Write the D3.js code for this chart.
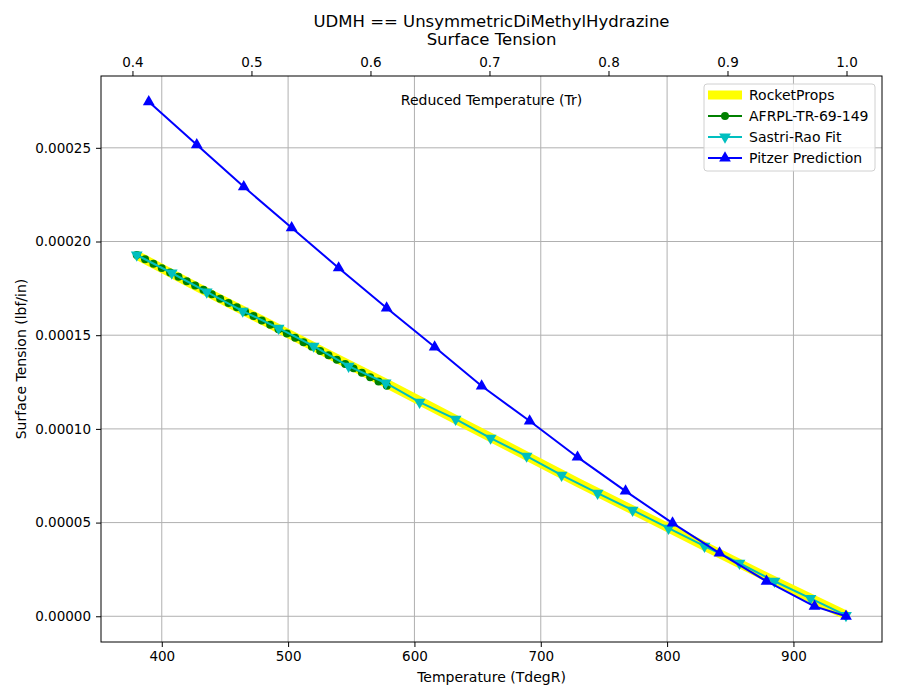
<!DOCTYPE html>
<html>
<head>
<meta charset="utf-8">
<script src="https://cdn.jsdelivr.net/npm/d3@7"></script>
<style>
  body { margin: 0; background: #fff; }
  svg, svg text { font-family: "DejaVu Sans", sans-serif; }
  .grid line { stroke: #b0b0b0; stroke-width: 1; }
  .axis text { font-size: 13.5px; fill: #000; font-family: "DejaVu Sans", sans-serif; }
</style>
</head>
<body>
<div id="demo"></div>
<script>
// critical temperature (degR) used for the reduced temperature axis
let Tc = 942.0;

// RocketProps (yellow band)
let rpT = [380, 430, 480, 530, 580, 630, 680, 730, 780, 830, 880, 942];
let rpV = [0.0001928, 0.0001750, 0.0001578, 0.0001405, 0.0001235, 0.0001060,
           0.0000886, 0.0000711, 0.0000543, 0.0000373, 0.0000205, 0.0000005];

// AFRPL-TR-69-149 (green circles)
let afT = [380.2, 386.8, 393.4, 400.0, 406.6, 413.2, 419.8, 426.4, 433.0, 439.6,
           446.2, 452.8, 459.4, 466.0, 472.6, 479.2, 485.8, 492.4, 499.0, 505.6,
           512.2, 518.8, 525.4, 532.0, 538.6, 545.2, 551.8, 558.4, 565.0, 571.6, 578.2];
let afV = [0.0001928, 0.0001905, 0.0001881, 0.0001858, 0.0001835, 0.0001812, 0.0001788,
           0.0001765, 0.0001742, 0.0001718, 0.0001695, 0.0001672, 0.0001649, 0.0001625,
           0.0001602, 0.0001579, 0.0001556, 0.0001532, 0.0001509, 0.0001486, 0.0001462,
           0.0001439, 0.0001416, 0.0001393, 0.0001369, 0.0001346, 0.0001323, 0.0001300,
           0.0001276, 0.0001253, 0.0001230];

// Sastri-Rao Fit (cyan down triangles)
let srT = [380.2, 407.9, 435.6, 464.1, 492.5, 520.2, 547.9, 577.2, 604.1, 632.6, 660.3,
           688.8, 716.5, 745.0, 772.7, 801.1, 829.6, 857.3, 885.0, 913.5, 941.6];
let srV = [0.0001928, 0.0001832, 0.0001731, 0.0001629, 0.0001538, 0.0001442, 0.0001335,
           0.0001245, 0.0001143, 0.0001052, 0.0000951, 0.0000855, 0.0000753, 0.0000657,
           0.0000566, 0.0000470, 0.0000374, 0.0000283, 0.0000187, 0.0000096, 0.0000005];

// Pitzer Prediction (blue up triangles)
let pzT = [389.7, 427.7, 464.9, 502.8, 540.0, 578.0, 616.0, 653.2, 691.2, 729.1,
           767.1, 804.3, 841.5, 878.7, 916.7, 941.6];
let pzV = [0.0002746, 0.0002516, 0.0002292, 0.0002073, 0.0001859, 0.0001645, 0.0001437,
           0.0001229, 0.0001042, 0.0000849, 0.0000668, 0.0000497, 0.0000337, 0.0000187,
           0.0000053, 0.0];

let yTicks = [0, 0.00005, 0.0001, 0.00015, 0.0002, 0.00025];
let xTicks = [400, 500, 600, 700, 800, 900];
let trTicks = [0.4, 0.5, 0.6, 0.7, 0.8, 0.9, 1.0];

let series = [
    {name: "RocketProps", T: rpT, v: rpV, color: "#ffff00", width: 9, marker: null},
    {name: "AFRPL-TR-69-149", T: afT, v: afV, color: "#008000", width: 2, marker: "circle"},
    {name: "Sastri-Rao Fit", T: srT, v: srV, color: "#00bfbf", width: 2, marker: "down"},
    {name: "Pitzer Prediction", T: pzT, v: pzV, color: "#0000ff", width: 2, marker: "up"}
];

let W = 900, H = 700;
let m = {top: 76, right: 18, bottom: 58, left: 101};
let w = W - m.left - m.right;
let h = H - m.top - m.bottom;

// matplotlib-like 5% padding
let allT = [].concat(rpT, afT, srT, pzT);
let allV = [].concat(rpV, afV, srV, pzV);
let tMin = d3.min(allT), tMax = d3.max(allT);
let vMin = d3.min(allV), vMax = d3.max(allV);
let tPad = (tMax - tMin) * 0.05, vPad = (vMax - vMin) * 0.05;

let x = d3.scaleLinear().domain([tMin - tPad, tMax + tPad]).range([0, w]);
let y = d3.scaleLinear().domain([vMin - vPad, vMax + vPad]).range([h, 0]);
let xTop = d3.scaleLinear().domain(x.domain().map(t => t / Tc)).range([0, w]);

let svg = d3.select("#demo")
    .append("svg")
    .attr("width", W)
    .attr("height", H);

let g = svg.append("g").attr("transform", `translate(${m.left},${m.top})`);

// grid
g.append("g").attr("class", "grid")
    .selectAll("line").data(xTicks).enter().append("line")
    .attr("x1", d => x(d)).attr("x2", d => x(d))
    .attr("y1", 0).attr("y2", h);
g.append("g").attr("class", "grid")
    .selectAll("line").data(yTicks).enter().append("line")
    .attr("x1", 0).attr("x2", w)
    .attr("y1", d => y(d)).attr("y2", d => y(d));

svg.append("clipPath").attr("id", "clip")
    .append("rect").attr("width", w).attr("height", h);

let plot = g.append("g").attr("clip-path", "url(#clip)");

let line = d3.line().x(d => x(d[0])).y(d => y(d[1]));

let sym = {
    circle: d3.symbol().type(d3.symbolCircle).size(50),
    up: d3.symbol().type(d3.symbolTriangle).size(60),
    down: d3.symbol().type(d3.symbolTriangle).size(60)
};

series.forEach(s => {
    let pts = s.T.map((t, i) => [t, s.v[i]]);
    plot.append("path")
        .datum(pts)
        .attr("d", line)
        .attr("fill", "none")
        .attr("stroke", s.color)
        .attr("stroke-width", s.width)
        .attr("stroke-linejoin", "round");
    if (s.marker) {
        plot.selectAll(null).data(pts).enter().append("path")
            .attr("d", sym[s.marker])
            .attr("transform", d => `translate(${x(d[0])},${y(d[1])})` + (s.marker === "down" ? " rotate(180)" : ""))
            .attr("fill", s.color);
    }
});

// axes
g.append("g").attr("class", "axis")
    .attr("transform", `translate(0,${h})`)
    .call(d3.axisBottom(x).tickValues(xTicks).tickSize(5).tickPadding(4).tickFormat(d3.format("d")));
g.append("g").attr("class", "axis")
    .call(d3.axisLeft(y).tickValues(yTicks).tickSize(5).tickPadding(5).tickFormat(d3.format(".5f")));
g.append("g").attr("class", "axis")
    .call(d3.axisTop(xTop).tickValues(trTicks).tickSize(5).tickPadding(4).tickFormat(d3.format(".1f")));

g.selectAll(".axis path.domain").remove();
g.append("rect")
    .attr("width", w).attr("height", h)
    .attr("fill", "none").attr("stroke", "#000").attr("stroke-width", 1);

// labels
svg.append("text")
    .attr("x", m.left + w / 2).attr("y", 682)
    .attr("text-anchor", "middle").attr("font-size", 14)
    .text("Temperature (TdegR)");
svg.append("text")
    .attr("transform", `translate(26,${m.top + h / 2}) rotate(-90)`)
    .attr("text-anchor", "middle").attr("font-size", 14)
    .text("Surface Tension (lbf/in)");
svg.append("text")
    .attr("x", m.left + w / 2).attr("y", 105)
    .attr("text-anchor", "middle").attr("font-size", 14)
    .text("Reduced Temperature (Tr)");

let title = svg.append("text")
    .attr("text-anchor", "middle").attr("font-size", 16.5);
title.append("tspan").attr("x", m.left + w / 2).attr("y", 27)
    .text("UDMH == UnsymmetricDiMethylHydrazine");
title.append("tspan").attr("x", m.left + w / 2).attr("y", 45)
    .text("Surface Tension");

// legend
let lg = g.append("g").attr("transform", `translate(${w - 178},8)`);
lg.append("rect")
    .attr("width", 171).attr("height", 87).attr("rx", 3)
    .attr("fill", "#fff").attr("fill-opacity", 0.8)
    .attr("stroke", "#d0d0d0");
series.forEach((s, i) => {
    let yy = 11 + i * 21;
    lg.append("line")
        .attr("x1", 4).attr("x2", 38).attr("y1", yy).attr("y2", yy)
        .attr("stroke", s.color).attr("stroke-width", s.width);
    if (s.marker) {
        lg.append("path")
            .attr("d", sym[s.marker])
            .attr("transform", `translate(21,${yy})` + (s.marker === "down" ? " rotate(180)" : ""))
            .attr("fill", s.color);
    }
    lg.append("text")
        .attr("x", 45).attr("y", yy + 5)
        .attr("font-size", 14)
        .text(s.name);
});
</script>
</body>
</html>
